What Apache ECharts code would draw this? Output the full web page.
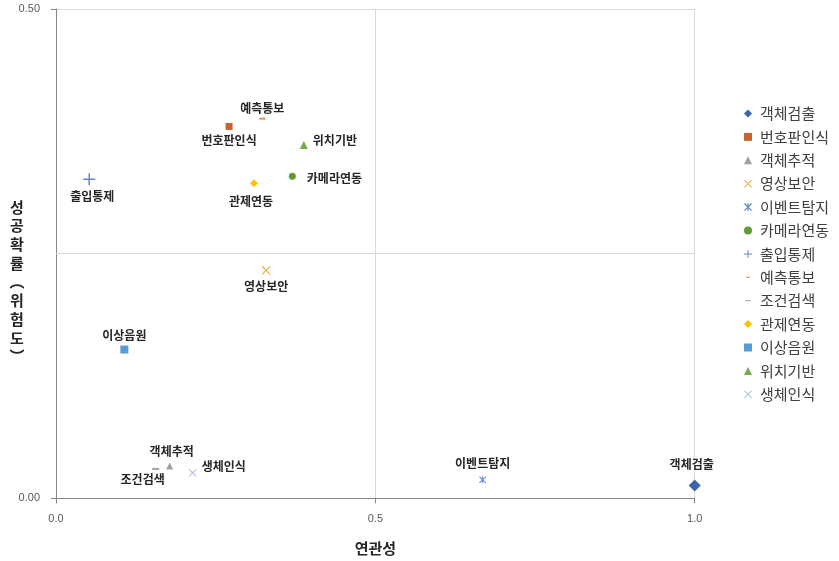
<!DOCTYPE html>
<html>
<head>
<meta charset="utf-8">
<script src="https://cdn.jsdelivr.net/npm/echarts@6/dist/echarts.min.js"></script>
<style>
  html, body { margin: 0; padding: 0; background: #fff; }
  #chart { width: 839px; height: 561px; }
</style>
</head>
<body>
<div id="chart"></div>
<script>
// Technology items: relevance (x) vs. success probability / risk (y)
const names = ['객체검출', '번호판인식', '객체추적', '영상보안', '이벤트탐지', '카메라연동', '출입통제',
               '예측통보', '조건검색', '관제연동', '이상음원', '위치기반', '생체인식'];
const relevance = [1.0, 0.271, 0.178, 0.329, 0.668, 0.370, 0.052, 0.323, 0.156, 0.310, 0.107, 0.388, 0.214];
const successRate = [0.013, 0.380, 0.033, 0.233, 0.019, 0.329, 0.326, 0.388, 0.030, 0.322, 0.152, 0.361, 0.026];

const xTicks = { min: 0, max: 1.0, interval: 0.5 };
const yTicks = { min: 0, max: 0.5, interval: 0.5 };
const yMidLine = 0.25;

// Marker shapes
const PLUS = 'path://M4.4,0H5.6V10H4.4Z M0,4.4H10V5.6H0Z';
const CROSS = 'path://M0,1L1,0L10,9L9,10Z M9,0L10,1L1,10L0,9Z';
const STAR = 'path://M0,1L1,0L10,9L9,10Z M9,0L10,1L1,10L0,9Z M4.3,0H5.7V10H4.3Z';
const DASH = 'path://M0,0H10V3H0Z';
// legend icons for the dashes, padded so they stay small inside the icon box
const DASH_ICON_SHORT = 'path://M0,0M10,10M3,4.3H7V5.7H3Z';
const DASH_ICON_LONG = 'path://M0,0M10,10M1.5,4.3H8.5V5.7H1.5Z';

const markerStyle = [
  { symbol: 'diamond', size: 12, color: '#3D64AA' },
  { symbol: 'rect', size: 7, color: '#C5652F' },
  { symbol: 'triangle', size: 7, color: '#A0A0A0' },
  { symbol: CROSS, size: 9, color: '#F2B24C' },
  { symbol: STAR, size: 7, color: '#5A8AC6' },
  { symbol: 'circle', size: 7, color: '#5E9A3A' },
  { symbol: PLUS, size: 12, color: '#5B86D6' },
  { symbol: DASH, size: 6, color: '#F07D3A', icon: DASH_ICON_SHORT },
  { symbol: DASH, size: 7, color: '#A6A6A6', icon: DASH_ICON_LONG },
  { symbol: 'diamond', size: 8, color: '#FFC000' },
  { symbol: 'rect', size: 8, color: '#5B9BD5' },
  { symbol: 'triangle', size: 8, color: '#70AD47' },
  { symbol: CROSS, size: 8, color: '#B4C6E7' }
];

const labelStyle = [
  { position: 'top', distance: 9, offset: [-3, 0] },
  { position: 'bottom', distance: 5 },
  { position: 'top', distance: 5, offset: [2, 0] },
  { position: 'bottom', distance: 6 },
  { position: 'top', distance: 7 },
  { position: 'right', distance: 11, offset: [0, 2] },
  { position: 'bottom', distance: 5, offset: [3, 0] },
  { position: 'top', distance: 3 },
  { position: 'bottom', distance: 3, offset: [-13, 0] },
  { position: 'bottom', distance: 8, offset: [-3, 0] },
  { position: 'top', distance: 4 },
  { position: 'right', distance: 5, offset: [0, -5] },
  { position: 'right', distance: 5, offset: [0, -6] }
];

const FONT = '"Noto Sans CJK KR", "Noto Sans", sans-serif';

const series = names.map((name, i) => ({
  name: name,
  type: 'scatter',
  symbol: markerStyle[i].symbol,
  symbolSize: markerStyle[i].size,
  symbolKeepAspect: true,
  itemStyle: { color: markerStyle[i].color, opacity: 1 },
  data: [[relevance[i], successRate[i]]],
  label: {
    show: true,
    formatter: name,
    position: labelStyle[i].position,
    distance: labelStyle[i].distance,
    offset: labelStyle[i].offset || [0, 0],
    fontFamily: FONT,
    fontSize: 12,
    fontWeight: 'bold',
    color: '#262626'
  },
  emphasis: { disabled: true },
  z: 3
}));

// horizontal centre line of the quadrant chart
series[0].markLine = {
  silent: true,
  symbol: 'none',
  label: { show: false },
  lineStyle: { color: '#D9D9D9', width: 1, type: 'solid' },
  data: [{ yAxis: yMidLine }],
  z: 1
};

const legendData = names.map((name, i) => {
  const item = { name: name };
  if (markerStyle[i].icon) item.icon = markerStyle[i].icon;
  return item;
});

const yTitle = ['성', '공', '확', '률', '︵', '위', '험', '도', '︶'].join('\n');

const chart = echarts.init(document.getElementById('chart'), null, { renderer: 'canvas' });
chart.setOption({
  animation: false,
  backgroundColor: '#ffffff',
  grid: {
    left: 56, right: 144.3, top: 9, bottom: 62.7,
    containLabel: false,
    outerBoundsMode: 'none'
  },
  xAxis: {
    type: 'value',
    min: xTicks.min, max: xTicks.max, interval: xTicks.interval,
    name: '연관성',
    nameLocation: 'middle',
    nameGap: 42,
    nameTextStyle: { fontFamily: FONT, fontSize: 15, fontWeight: 'bold', color: '#262626' },
    axisLine: { show: true, lineStyle: { color: '#868686', width: 1 } },
    axisTick: { show: true, length: 5, lineStyle: { color: '#868686' } },
    axisLabel: {
      margin: 15, fontFamily: 'Liberation Sans, Arial, sans-serif', fontSize: 11, color: '#595959',
      formatter: v => v.toFixed(1)
    },
    splitLine: { show: true, lineStyle: { color: '#D9D9D9', width: 1 } }
  },
  yAxis: {
    type: 'value',
    min: yTicks.min, max: yTicks.max, interval: yTicks.interval,
    axisLine: { show: true, lineStyle: { color: '#868686', width: 1 } },
    axisTick: { show: true, length: 5, lineStyle: { color: '#868686' } },
    axisLabel: {
      margin: 16, fontFamily: 'Liberation Sans, Arial, sans-serif', fontSize: 11, color: '#595959',
      formatter: v => v.toFixed(2)
    },
    splitLine: { show: true, lineStyle: { color: '#D9D9D9', width: 1 } }
  },
  legend: {
    orient: 'vertical',
    left: 739,
    top: 100.5,
    itemWidth: 8,
    itemHeight: 8,
    itemGap: 7.4,
    selectedMode: false,
    textStyle: { fontFamily: FONT, fontSize: 15, color: '#404040', lineHeight: 16, padding: [0, 0, 0, 3] },
    data: legendData
  },
  graphic: [{
    type: 'text',
    silent: true,
    style: {
      x: 17,
      y: 197.6,
      text: yTitle,
      align: 'center',
      verticalAlign: 'top',
      lineHeight: 18.7,
      fontFamily: FONT,
      fontSize: 15,
      fontWeight: 'bold',
      fill: '#262626'
    }
  }],
  series: series
});
</script>
</body>
</html>
